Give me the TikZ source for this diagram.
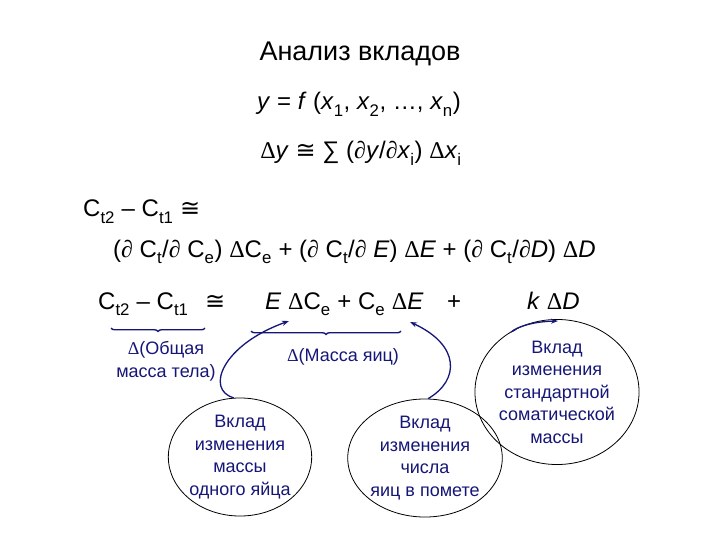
\documentclass[tikz,border=0pt]{standalone}
\usepackage{fontspec}
\setmainfont{Liberation Sans}
\newfontfamily\dvsans{DejaVu Sans}
\newfontfamily\lserif{Liberation Serif}
\usetikzlibrary{positioning,shapes.geometric,arrows.meta,decorations.pathreplacing}
\definecolor{inkblue}{RGB}{22,22,120}
\newcommand{\idx}[1]{\raisebox{-0.12em}{\textsubscript{#1}}}
\newcommand{\Dlt}{{\lserif Δ}}
\newcommand{\Prt}{{\lserif\itshape ∂}}
\newcommand{\apx}{{\dvsans ≅}}

\begin{document}
\begin{tikzpicture}[
  x=1pt, y=-1pt,
  heading/.style={anchor=base, inner sep=0pt, font=\fontsize{27}{31}\selectfont},
  eqline/.style={anchor=base, inner sep=0pt, font=\fontsize{24}{28}\selectfont},
  formula/.style={anchor=base west, inner sep=0pt, font=\fontsize{24}{28}\selectfont},
  note/.style={inner sep=0pt, align=center, text=inkblue, font=\fontsize{18}{23}\selectfont},
  oval/.style={ellipse, draw=black, line width=0.8pt, inner sep=0pt, align=center, text=inkblue, font=\fontsize{18}{22.5}\selectfont},
  brc/.style={decorate, decoration={brace, mirror, amplitude=3.5pt}, line width=1.4pt, inkblue},
  conn/.style={-{Stealth[length=7pt, width=5pt]}, line width=1.3pt, inkblue}
]
\useasboundingbox[fill=white] (0,0) rectangle (720,540);

% title and general rule
\node[heading] (title) at (360,61) {Анализ вкладов};
\node[eqline] (fx) at (359,110) {\textit{y} = \textit{f} (\textit{x}\idx{1}, \textit{x}\idx{2}, …, \textit{x}\idx{n})};
\node[eqline] (dy) at (361,159) {\Dlt\textit{y} \apx{} ∑ (\Prt\textit{y}/\Prt\textit{x}\idx{i}) \Dlt\textit{x}\idx{i}};

% expansion
\node[formula] (diff) at (83,217) {C\idx{t2} – C\idx{t1} \apx};
\node[formula] (expand) at (113,257) {(\Prt{} C\idx{t}/\Prt{} C\idx{e}) \Dlt C\idx{e} + (\Prt{} C\idx{t}/\Prt{} \textit{E}) \Dlt\textit{E} + (\Prt{} C\idx{t}/\Prt\textit{D}) \Dlt\textit{D}};

% simplified form
\node[formula] (lhs) at (98,309) {C\idx{t2} – C\idx{t1}};
\node[formula] (approx) at (205,309) {\apx};
\node[formula] (terms) at (265,309) {\textit{E} \Dlt C\idx{e} + C\idx{e} \Dlt\textit{E}};
\node[formula] (plus) at (447,309) {+};
\node[formula] (kterm) at (527,309) {\textit{k} \Dlt\textit{D}};

\draw[brc] (111,328) -- (205,328);
\draw[brc] (251,331) -- (401,331);

\node[note] (bodyLbl) at (166,361) {\Dlt(Общая\\масса тела)};
\node[note] (eggLbl) at (343,357) {\Dlt(Масса яиц)};

% contributions
\node[oval, minimum width=136pt, minimum height=100pt] (eggMass) at (240,457) {Вклад\\изменения\\массы\\одного яйца};
\node[oval, minimum width=150pt, minimum height=100pt] (eggCount) at (425,458) {Вклад\\изменения\\числа\\яиц в помете};
\node[oval, minimum width=148pt, minimum height=108pt] (somaMass) at (557,392) {Вклад\\изменения\\стандартной\\соматической\\массы};

\coordinate (tipCe) at (289,321);
\coordinate (tipE) at (410,322);
\coordinate (tipD) at (558,321);

\draw[conn] (eggMass.96) .. controls (205,390) and (222,345) .. (tipCe);
\draw[conn] (eggCount.87) .. controls (460,380) and (460,345) .. (tipE);
\draw[conn] (somaMass.122) .. controls (505,338) and (515,322) .. (tipD);
\end{tikzpicture}
\end{document}
